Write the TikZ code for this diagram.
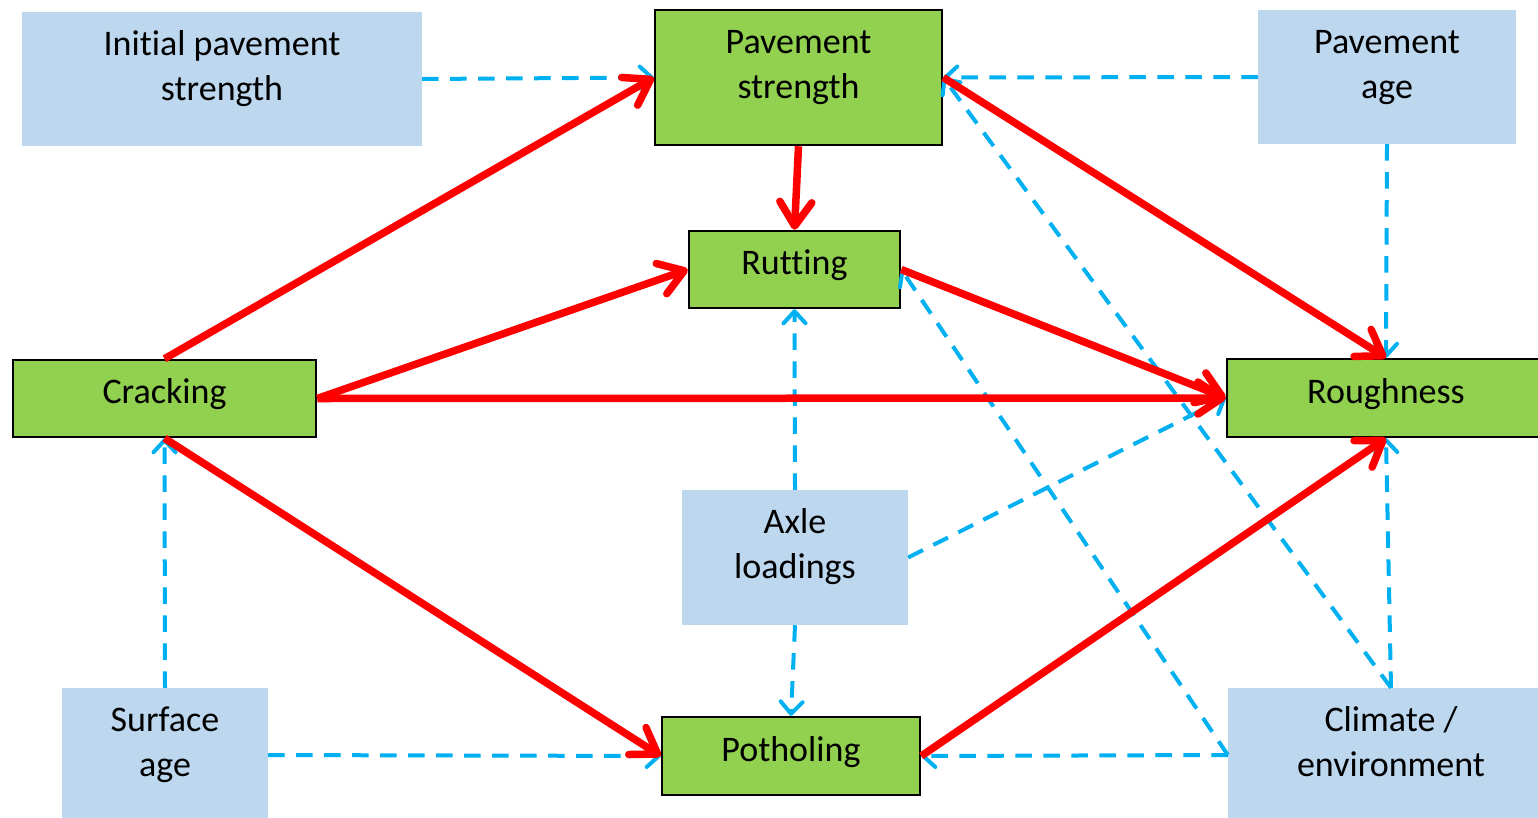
\documentclass[tikz,border=0pt]{standalone}
\usepackage{fontspec}
\setmainfont{Carlito}[Ligatures=NoCommon]
\usetikzlibrary{arrows.meta}
\definecolor{boxgreen}{HTML}{92D050}
\definecolor{boxblue}{HTML}{BDD7EE}
\definecolor{linkblue}{HTML}{00B0F0}
\definecolor{linkred}{HTML}{FF0000}

\begin{document}
\begin{tikzpicture}[x=1pt,y=-1pt,
  base/.style={rectangle, inner sep=0pt, align=center,
    font=\fontsize{36}{45}\selectfont, text=black},
  oneline/.style={text height=25pt, text depth=15pt},
  twoline/.style={text height=70pt, text depth=28pt},
  factor/.style={base, fill=boxgreen, draw=black, line width=2.5pt},
  driver/.style={base, fill=boxblue},
  effect/.style={draw=linkred, line width=7.5pt,
    -{Straight Barb[length=24pt,width=32pt,round]}},
  influence/.style={draw=linkblue, line width=4pt,
    dash pattern=on 16.5pt off 11.5pt,
    -{Straight Barb[length=12pt,width=22pt,round]}},
]
\useasboundingbox (0,0) rectangle (1538,817);

% pavement condition factors
\node[factor, twoline, minimum width=287pt, minimum height=135pt] (ps) at (798.5,77.5) {Pavement\\strength};
\node[factor, oneline, minimum width=211pt, minimum height=77pt] (rut) at (794.5,269.5) {Rutting};
\node[factor, oneline, minimum width=303pt, minimum height=77pt] (crack) at (164.5,398.5) {Cracking};
\node[factor, oneline, minimum width=318pt, minimum height=78pt] (rough) at (1386,398) {Roughness};
\node[factor, oneline, minimum width=258pt, minimum height=78pt] (pot) at (791,756) {Potholing};

% external drivers
\node[driver, twoline, minimum width=400pt, minimum height=134pt] (init) at (222,79) {Initial pavement\\strength};
\node[driver, twoline, minimum width=258pt, minimum height=134pt] (age) at (1387,77) {Pavement\\age};
\node[driver, twoline, minimum width=226pt, minimum height=135pt] (axle) at (795,557.5) {Axle\\loadings};
\node[driver, twoline, minimum width=206pt, minimum height=134pt] (surf) at (165,755) {Surface\\age};
\node[driver, twoline, minimum width=326pt, minimum height=134pt] (clim) at (1391,755) {Climate /\\environment};

% influences of the drivers
\draw[influence] (init.east) -- (ps.west);
\draw[influence] (age.west) -- (ps.east);
\draw[influence] (age.south) -- (rough.north);
\draw[influence] (axle.north) -- (rut.south);
\draw[influence] (axle.south) -- (pot.north);
\draw[influence] (axle.east) -- (rough.west);
\draw[influence] (surf.north) -- (crack.south);
\draw[influence] (surf.east) -- (pot.west);
\draw[influence] (clim.north) -- (rough.south);
\draw[influence] (clim.north) -- (ps.east);
\draw[influence] (clim.west) -- (rut.east);
\draw[influence] (clim.west) -- (pot.east);

% effects between condition factors
\draw[effect] (crack.north) -- (ps.west);
\draw[effect] (crack.east) -- (rut.west);
\draw[effect] (crack.east) -- (rough.west);
\draw[effect] (crack.south) -- (pot.west);
\draw[effect] (ps.south) -- (rut.north);
\draw[effect] (ps.east) -- (rough.north);
\draw[effect] (rut.east) -- (rough.west);
\draw[effect] (pot.east) -- (rough.south);
\end{tikzpicture}
\end{document}
